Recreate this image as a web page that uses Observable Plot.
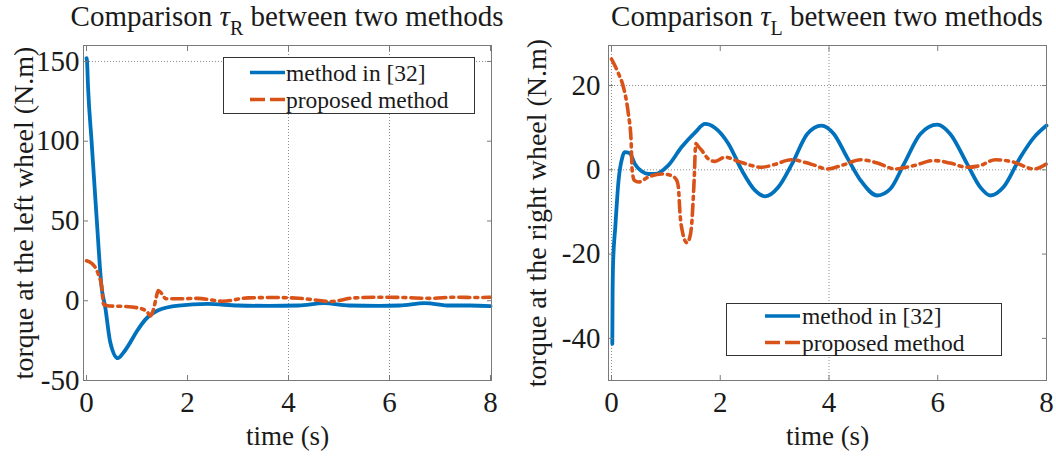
<!DOCTYPE html>
<html><head><meta charset="utf-8">
<script src="https://cdn.jsdelivr.net/npm/d3@7"></script>
<script src="https://cdn.jsdelivr.net/npm/@observablehq/plot@0.6"></script>
<style>
body{margin:0;background:#fff;}
#wrap{position:relative;width:1056px;height:457px;overflow:hidden;font-family:"Liberation Serif","DejaVu Serif","Times New Roman",serif;color:#1a1a1a;background:#fff;}
.panel{position:absolute;top:0;}
.title{position:absolute;top:0;font-size:29px;line-height:32px;white-space:nowrap;transform:translateX(-50%);}
.title i{font-style:italic;}
.title .sub{font-size:20px;position:relative;top:9px;}
.legend{position:absolute;background:#fff;border:1px solid #333;box-sizing:border-box;}
.legend svg{display:block;overflow:visible;}
</style></head><body><div id="wrap"></div>
<script>
// ---- data ----
const xTicks = [0, 2, 4, 6, 8];
const leftYTicks = [-50, 0, 50, 100, 150];
const rightYTicks = [-40, -20, 0, 20];
const seriesNames = ["method in [32]", "proposed method"];

// left panel: torque at the left wheel (tau_R)
const leftBlueT = [0, 0.01, 0.03, 0.1, 0.2, 0.3, 0.37, 0.47, 0.62, 0.72, 0.83, 1.0, 1.16, 1.42, 1.82, 2.4, 3.0, 3.6, 4.2, 4.7, 5.2, 5.8, 6.2, 6.7, 7.2, 7.6, 8.0];
const leftBlueV = [152, 150, 134, 100, 52, 8, -4, -26, -36, -33, -28, -19, -12, -6, -3, -2, -3, -3.2, -3, -1.5, -3, -3.2, -3, -1.5, -3, -3, -3.4];
const leftOrangeT = [0, 0.1, 0.18, 0.24, 0.3, 0.34, 0.45, 0.77, 1.09, 1.2, 1.27, 1.33, 1.38, 1.42, 1.49, 1.57, 1.82, 2.2, 2.7, 3.2, 3.7, 4.2, 4.5, 4.83, 5.3, 5.8, 6.3, 6.8, 7.3, 7.7, 8.0];
const leftOrangeV = [25, 23.5, 20.5, 16, 9, -2.5, -3.3, -3.6, -5, -7, -9.5, -5, 2, 6.4, 4.5, 1.2, 1.2, 1.5, -0.3, 1.8, 2, 1.6, 0.6, -0.5, 1.8, 2.2, 2.0, 1.5, 2.2, 2.0, 2.2];

// right panel: torque at the right wheel (tau_L)
const rightBlueT = [0.015, 0.02, 0.03, 0.07, 0.13, 0.2, 0.24, 0.33, 0.43, 0.55, 0.68, 0.8, 1.04, 1.29, 1.54, 1.72, 1.9, 2.15, 2.4, 2.64, 2.83, 3.07, 3.32, 3.6, 3.86, 4.09, 4.33, 4.58, 4.89, 5.13, 5.38, 5.68, 5.99, 6.23, 6.54, 6.78, 6.97, 7.21, 7.52, 7.77, 8.0];
const rightBlueV = [-41.3, -30, -22, -13.6, -2.5, 3, 4.2, 4.0, 1.4, -0.3, -1.0, -1.0, 1.0, 5.4, 8.9, 10.9, 10.0, 6.2, -0.2, -4.9, -6.3, -4.1, 1.4, 8.5, 10.5, 8.5, 3, -2.5, -6.1, -4.5, 1.4, 8.5, 10.7, 8.5, 1.4, -4.1, -6.1, -4.1, 3, 7.7, 10.5];
const rightOrangeT = [0, 0.13, 0.22, 0.31, 0.36, 0.38, 0.42, 0.5, 0.68, 0.92, 1.11, 1.2, 1.23, 1.26, 1.31, 1.385, 1.44, 1.47, 1.52, 1.55, 1.6, 1.66, 1.78, 1.9, 2.09, 2.33, 2.58, 2.76, 3.01, 3.3, 3.66, 3.97, 4.27, 4.58, 4.89, 5.22, 5.56, 5.93, 6.23, 6.54, 6.78, 7.06, 7.4, 7.77, 8.0];
const rightOrangeV = [26.3, 22.8, 19.6, 13.3, 7, 0, -2.5, -2.9, -1.7, -1, -1.4, -2.5, -4.1, -10.4, -15, -17.3, -16, -13.6, -2.5, 6.2, 5.5, 4.6, 2.6, 2, 3, 2, 1, 0.6, 1.3, 2.4, 1.4, 0.2, 1.2, 2.4, 1.6, 0.2, 1, 2.2, 1.6, 0.6, 1, 2.4, 1.8, 0.2, 1.4];

const BLUE = "#0072BD", ORANGE = "#D95319";
const FONT = '"Liberation Serif", "DejaVu Serif", "Times New Roman", serif';
const wrap = document.getElementById("wrap");

function panel(o) {
  const blue = o.tB.map((t, i) => ({t, v: o.vB[i]}));
  const orange = o.tO.map((t, i) => ({t, v: o.vO[i]}));
  const fmt = d => String(d);
  const tickStyle = {stroke: "#7a7a7a", fill: "none", tickSize: -5};
  const chart = Plot.plot({
    width: o.width, height: 457,
    marginLeft: o.mL, marginRight: o.mR, marginTop: 45, marginBottom: 77,
    x: {domain: o.xDomain},
    y: {domain: o.yDomain},
    style: {fontFamily: FONT, fontSize: "29px", color: "#1a1a1a", background: "transparent", overflow: "visible"},
    marks: [
      Plot.gridX(o.gridX, {stroke: "#8c8c8c", strokeOpacity: 1, strokeWidth: 1, strokeDasharray: "1,2"}),
      Plot.gridY(o.gridY, {stroke: "#8c8c8c", strokeOpacity: 1, strokeWidth: 1, strokeDasharray: "1,2"}),
      Plot.line(blue, {x: "t", y: "v", stroke: BLUE, strokeWidth: 3.8, curve: "monotone-x", strokeLinejoin: "round"}),
      Plot.line(orange, {x: "t", y: "v", stroke: ORANGE, strokeWidth: 3.6, curve: "monotone-x", strokeDasharray: "11,5,3,5"}),
      Plot.frame({stroke: "#7a7a7a", strokeWidth: 1}),
      Plot.axisX(xTicks, {anchor: "bottom", ...tickStyle}),
      Plot.axisX(xTicks, {anchor: "top", ...tickStyle}),
      Plot.axisY(o.yTicks, {anchor: "left", ...tickStyle}),
      Plot.axisY(o.yTicks, {anchor: "right", ...tickStyle}),
      Plot.axisX(xTicks, {anchor: "bottom", tickSize: 0, tickPadding: 11, tickFormat: fmt, label: null, fontSize: 29, fill: "#1a1a1a"}),
      Plot.axisY(o.yTicks, {anchor: "left", tickSize: 0, tickPadding: o.yPad, tickFormat: fmt, label: null, fontSize: 29, fill: "#1a1a1a"}),
      Plot.text(["time (s)"], {frameAnchor: "bottom", textAnchor: "middle", text: d => d, dy: 64, lineAnchor: "bottom", fontSize: 27, fill: "#1a1a1a"}),
      Plot.text([o.yLabel], {frameAnchor: "left", textAnchor: "middle", text: d => d, rotate: -90, dx: o.yLabelDx, lineAnchor: "bottom", fontSize: 28, fill: "#1a1a1a"})
    ]
  });
  const div = document.createElement("div");
  div.className = "panel";
  div.style.left = o.left + "px";
  div.appendChild(chart);
  wrap.appendChild(div);

  const t = document.createElement("div");
  t.className = "title";
  t.style.left = o.titleX + "px";
  t.innerHTML = 'Comparison <i>τ</i><span class="sub">' + o.sub + '</span> between two methods';
  wrap.appendChild(t);

  const lg = document.createElement("div");
  lg.className = "legend";
  const L = o.legend;
  lg.style.left = L.x + "px"; lg.style.top = L.y + "px";
  lg.style.width = L.w + "px"; lg.style.height = L.h + "px";
  const ns = "http://www.w3.org/2000/svg";
  const svg = document.createElementNS(ns, "svg");
  svg.setAttribute("width", L.w - 2); svg.setAttribute("height", L.h - 2);
  const styles = [{stroke: BLUE, dash: null}, {stroke: ORANGE, dash: "15,5"}];
  seriesNames.forEach((name, i) => {
    const ly = L.rowY[i];
    const line = document.createElementNS(ns, "line");
    line.setAttribute("x1", L.lx1); line.setAttribute("x2", L.lx2);
    line.setAttribute("y1", ly); line.setAttribute("y2", ly);
    line.setAttribute("stroke", styles[i].stroke);
    line.setAttribute("stroke-width", 3.6);
    if (styles[i].dash) line.setAttribute("stroke-dasharray", styles[i].dash);
    svg.appendChild(line);
    const tx = document.createElementNS(ns, "text");
    tx.setAttribute("x", L.tx); tx.setAttribute("y", ly + 8);
    tx.setAttribute("font-family", FONT); tx.setAttribute("font-size", 23.5);
    tx.setAttribute("fill", "#1a1a1a");
    tx.textContent = name;
    svg.appendChild(tx);
  });
  lg.appendChild(svg);
  wrap.appendChild(lg);
}

panel({
  left: 0, width: 528, mL: 83, mR: 37,
  xDomain: [-0.06, 8.02], yDomain: [-50, 160], yTicks: leftYTicks,
  gridX: [4, 6], gridY: [150],
  tB: leftBlueT, vB: leftBlueV, tO: leftOrangeT, vO: leftOrangeV,
  yPad: 4, yLabel: "torque at the left wheel (N.m)", yLabelDx: -51,
  titleX: 287, sub: "R",
  legend: {x: 223, y: 57, w: 252, h: 57, lx1: 26, lx2: 61, tx: 62, rowY: [14.5, 41.5]}
});
panel({
  left: 528, width: 528, mL: 80, mR: 10,
  xDomain: [-0.055, 8], yDomain: [-50, 29.5], yTicks: rightYTicks,
  gridX: [0, 4], gridY: [20, 0],
  tB: rightBlueT, vB: rightBlueV, tO: rightOrangeT, vO: rightOrangeV,
  yPad: 8, yLabel: "torque at the right wheel (N.m)", yLabelDx: -63,
  titleX: 827, sub: "L",
  legend: {x: 726, y: 303, w: 276, h: 53, lx1: 38, lx2: 73, tx: 75, rowY: [12, 38.5]}
});
</script></body></html>
